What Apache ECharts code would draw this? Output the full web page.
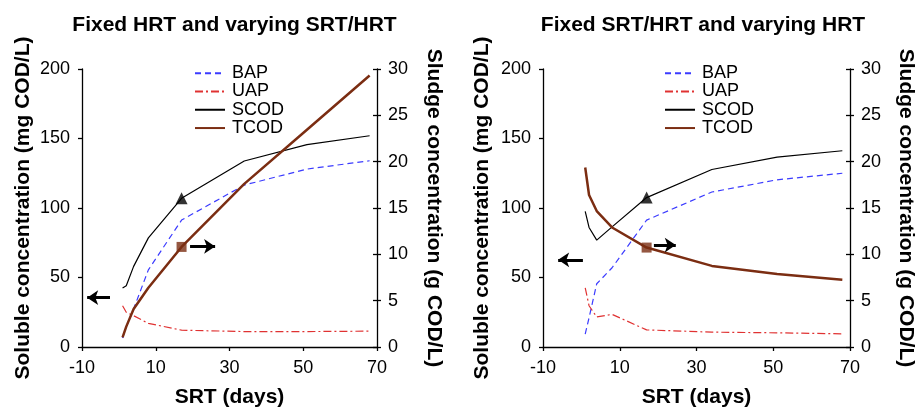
<!DOCTYPE html>
<html><head><meta charset="utf-8">
<script src="https://cdn.jsdelivr.net/npm/echarts@6/dist/echarts.min.js"></script>
<style>html,body{margin:0;padding:0;background:#fff}#c{width:917px;height:413px}</style>
</head><body><div id="c"></div>
<script>
// ---- data ----
const srtDays = [1, 2, 4, 8, 17, 34, 51, 68];
const titles = ['Fixed HRT and varying SRT/HRT', 'Fixed SRT/HRT and varying HRT'];
const xTicks = [-10, 10, 30, 50, 70];
// Panel A (fixed HRT)
const bapA  = [6.5, 14.6, 27.4, 55.5, 91.3, 116.5, 128, 134];
const uapA  = [29.7, 25, 22.5, 17, 12.1, 11.1, 11.1, 11.4];
const scodA = [42.5, 44.1, 58, 78.5, 107, 133.8, 145.6, 152];
const tcodA = [1.04, 2.2, 4.1, 6.4, 10.8, 17.6, 23.45, 29.3];
// Panel B (fixed SRT/HRT)
const bapB  = [9.3, 21, 45.5, 57, 91.3, 111.5, 120.3, 125];
const uapB  = [42.5, 29.7, 21.6, 23.5, 12.3, 10.7, 10.2, 9.5];
const scodB = [97.6, 86, 76.9, 86.4, 107.5, 127.7, 136.6, 141.2];
const tcodB = [19.37, 16.4, 14.67, 12.9, 10.73, 8.75, 7.87, 7.25];
const markerIndex = 4; // SRT = 17 d
// axis-indicating arrows [from, to] in data units
const arrowsA = { left: [[-2.4, 35.5], [-8.6, 35.5]], right: [[19.3, 10.85], [26.1, 10.85]] };
const arrowsB = { left: [[0.4, 62.7], [-6.05, 62.7]], right: [[18.9, 11.0], [24.6, 11.0]] };

// ---- chart ----
const FONT = 'Liberation Sans, Arial, sans-serif';
const pair = (ys) => srtDays.map((x, i) => [x, ys[i]]);
const grids = [
  { left: 82, right: 540, top: 69, bottom: 57 },
  { left: 543, right: 64, top: 69, bottom: 57 }
];
const gridCenters = [(82 + 377) / 2, (543 + 853) / 2];
const leftNameGap = [48, 50], rightNameGap = [46, 45];
const legendLeft = [194, 664];

const xAxes = [], yAxes = [], series = [], legends = [], titleArr = [];
const panels = [
  { bap: bapA, uap: uapA, scod: scodA, tcod: tcodA, arrows: arrowsA },
  { bap: bapB, uap: uapB, scod: scodB, tcod: tcodB, arrows: arrowsB }
];
const axisLine = { show: true, onZero: false, lineStyle: { color: '#000', width: 1.3 } };
const tick = { show: true, length: 4, lineStyle: { color: '#000', width: 1.3 } };
panels.forEach((p, g) => {
  titleArr.push({ text: titles[g], left: gridCenters[g], top: 10, textAlign: 'center',
    textStyle: { fontFamily: FONT, fontSize: 21, fontWeight: 'bold', color: '#000' } });
  xAxes.push({ gridIndex: g, type: 'value', min: xTicks[0], max: xTicks[xTicks.length - 1], interval: xTicks[1] - xTicks[0],
    name: 'SRT (days)', nameLocation: 'middle', nameGap: 40,
    nameTextStyle: { fontFamily: FONT, fontSize: 21, fontWeight: 'bold', color: '#000' },
    axisLine: axisLine, axisTick: tick,
    axisLabel: { fontFamily: FONT, fontSize: 18, color: '#000', margin: 12 },
    splitLine: { show: false } });
  const yl = yAxes.length;
  yAxes.push({ gridIndex: g, type: 'value', position: 'left', min: 0, max: 200, interval: 50,
    name: 'Soluble concentration (mg COD/L)', nameLocation: 'middle', nameGap: leftNameGap[g], nameRotate: 90,
    nameTextStyle: { fontFamily: FONT, fontSize: 21, fontWeight: 'bold', color: '#000' },
    axisLine: axisLine, axisTick: tick,
    axisLabel: { fontFamily: FONT, fontSize: 18, color: '#000', margin: 12 },
    splitLine: { show: false } });
  yAxes.push({ gridIndex: g, type: 'value', position: 'right', min: 0, max: 30, interval: 5,
    name: 'Sludge concentration (g COD/L)', nameLocation: 'middle', nameGap: rightNameGap[g], nameRotate: -90,
    nameTextStyle: { fontFamily: FONT, fontSize: 21, fontWeight: 'bold', color: '#000' },
    axisLine: axisLine, axisTick: tick,
    axisLabel: { fontFamily: FONT, fontSize: 18, color: '#000', margin: 11 },
    splitLine: { show: false } });
  yAxes.push({ gridIndex: g, type: 'value', position: 'right', min: 0, max: 30, interval: 5,
    axisLine: { show: false, onZero: false }, axisTick: Object.assign({}, tick, { inside: true }),
    axisLabel: { show: false }, splitLine: { show: false } });
  const base = { type: 'line', xAxisIndex: g, symbol: 'none', animation: false, silent: true, z: 3 };
  const arrowLine = (pts) => ({ silent: true, animation: false, symbol: ['none', 'arrow'], symbolSize: 11,
    label: { show: false }, lineStyle: { color: '#000', width: 3, type: 'solid' },
    data: [[{ coord: pts[0] }, { coord: pts[1] }]] });
  series.push(Object.assign({}, base, { name: 'BAP', yAxisIndex: yl, data: pair(p.bap),
    lineStyle: { color: '#3b3bff', width: 1.2, type: [6, 4] }, itemStyle: { color: '#3b3bff' } }));
  series.push(Object.assign({}, base, { name: 'UAP', yAxisIndex: yl, data: pair(p.uap),
    lineStyle: { color: '#e03232', width: 1.2, type: [8, 3, 2, 3] }, itemStyle: { color: '#e03232' } }));
  series.push(Object.assign({}, base, { name: 'SCOD', yAxisIndex: yl, data: pair(p.scod),
    lineStyle: { color: '#000', width: 1.2 }, itemStyle: { color: '#000' },
    markLine: arrowLine(p.arrows.left) }));
  series.push(Object.assign({}, base, { name: 'TCOD', yAxisIndex: yl + 1, data: pair(p.tcod),
    lineStyle: { color: '#7b2d12', width: 2.5 }, itemStyle: { color: '#7b2d12' },
    markLine: arrowLine(p.arrows.right) }));
  series.push({ type: 'scatter', xAxisIndex: g, yAxisIndex: yl, symbol: 'triangle', symbolSize: 12,
    itemStyle: { color: '#000' }, silent: true, animation: false, z: 5,
    data: [[srtDays[markerIndex], p.scod[markerIndex]]] });
  series.push({ type: 'scatter', xAxisIndex: g, yAxisIndex: yl + 1, symbol: 'rect', symbolSize: 10,
    itemStyle: { color: '#7b2d12' }, silent: true, animation: false, z: 5,
    data: [[srtDays[markerIndex], p.tcod[markerIndex]]] });
  legends.push({ orient: 'vertical', left: legendLeft[g], top: 64, padding: 0, itemWidth: 30, itemHeight: 14, itemGap: 0,
    data: ['BAP', 'UAP', 'SCOD', 'TCOD'], selectedMode: false, itemStyle: { opacity: 0 },
    textStyle: { fontFamily: FONT, fontSize: 18, color: '#000', lineHeight: 18.3, padding: [0, 0, 0, 2] } });
});

const chart = echarts.init(document.getElementById('c'), null, { renderer: 'canvas' });
chart.setOption({ animation: false, backgroundColor: '#fff', title: titleArr, grid: grids,
  xAxis: xAxes, yAxis: yAxes, legend: legends, series: series });
</script></body></html>
